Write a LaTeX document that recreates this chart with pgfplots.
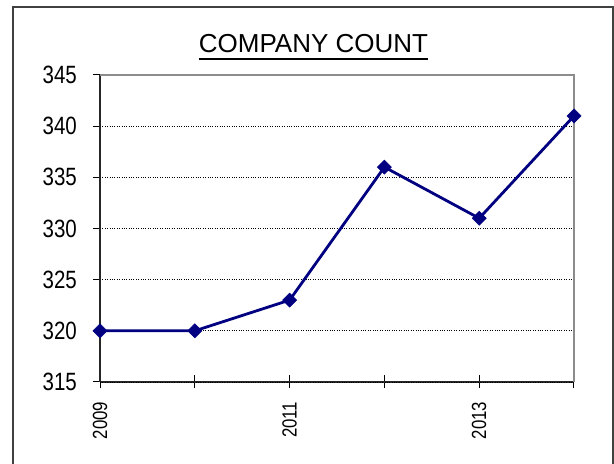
\documentclass[border=0pt]{standalone}
\usepackage{pgfplots}
\pgfplotsset{compat=1.18}
\usepackage{fontspec}
\setmainfont{Liberation Sans}
\newfontfamily\narrowfont{Liberation Sans}[FakeStretch=0.82]
\definecolor{navyline}{RGB}{0,0,128}
\pgfplotsset{
  frame/.style={at={(100bp,82bp)}, anchor=south west,
    scale only axis, width=474bp, height=307bp,
    xmin=2009, xmax=2014, ymin=315, ymax=345,
    clip=false}
}
\begin{document}
\begin{tikzpicture}[x=1bp,y=1bp]
\useasboundingbox (0,0) rectangle (614,464);
\fill[white] (0,0) rectangle (614,464);
\draw[line width=1.2bp, black!75] (13,-10) rectangle (613,457);
% x axis with its ticks
\begin{axis}[frame,
  xtick={2009,...,2014},
  xticklabels={2009,,2011,,2013,},
  ytick=\empty,
  axis x line*=bottom, axis y line=none,
  axis line style={line width=1.6bp, black!85, -},
  major tick length=13bp,
  x tick style={line width=1bp, black},
  xtick align=center,
  xticklabel style={font=\narrowfont\fontsize{20.5bp}{24bp}\selectfont, rotate=90, anchor=east, inner sep=0pt, xshift=-13bp},
  /pgf/number format/assume math mode=true,
  /pgf/number format/1000 sep={},
]
\end{axis}
% y axis, grid and data
\begin{axis}[frame,
  xtick=\empty,
  ytick={315,320,...,345},
  axis x line=none, axis y line*=left,
  axis line style={line width=1.6bp, black!85, -},
  major tick length=7bp,
  y tick style={line width=1bp, black},
  ytick align=outside,
  ymajorgrids,
  grid style={dotted, line width=0.8bp, black},
  yticklabel style={font=\narrowfont\fontsize{25bp}{30bp}\selectfont, anchor=east, inner sep=0pt, xshift=-16bp},
  /pgf/number format/assume math mode=true,
  /pgf/number format/1000 sep={},
]
\draw[line width=2bp, black!45] (rel axis cs:0,1) -- (rel axis cs:1,1) -- (rel axis cs:1,0);
\addplot[navyline, line width=2.8bp, mark=square*, mark size=5bp,
  mark options={rotate=45, solid, fill=navyline, draw=navyline, line width=0.5bp}]
  coordinates {(2009,320) (2010,320) (2011,323) (2012,336) (2013,331) (2014,341)};
\end{axis}
\node[anchor=base, inner sep=0pt, font=\fontsize{26bp}{30bp}\selectfont] (t) at (313.5,411) {COMPANY COUNT};
\draw[line width=1.6bp] ([yshift=-6bp]t.base west) -- ([yshift=-6bp]t.base east);
\end{tikzpicture}
\end{document}
